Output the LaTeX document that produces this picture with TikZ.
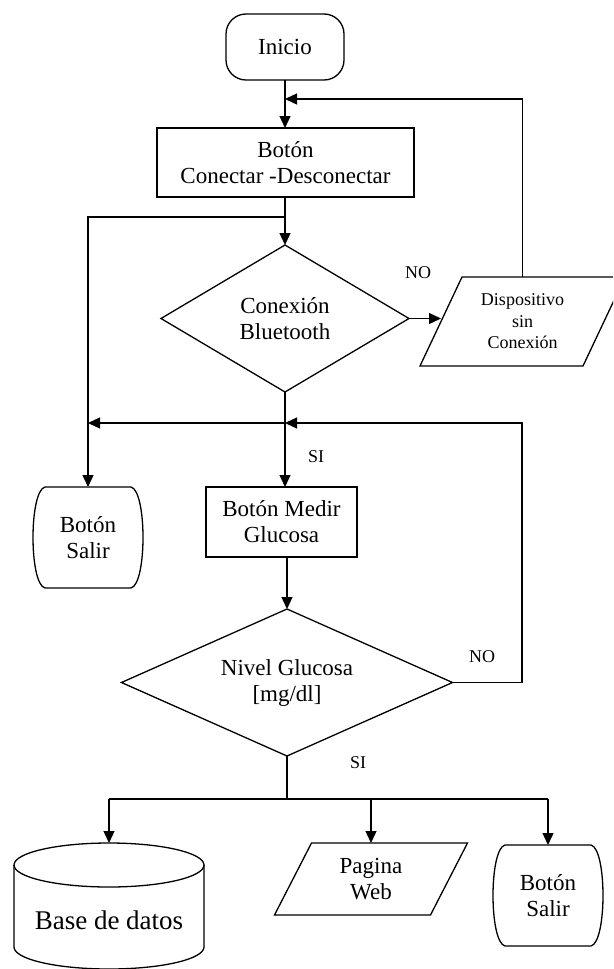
\documentclass[tikz,border=0pt]{standalone}
\usepackage{fontspec}
\setmainfont{Liberation Serif}
\usetikzlibrary{arrows.meta,shapes.geometric,calc}
% button shape with bulging sides
\newcommand\barrelshape[1]{%
  \draw[line] ($(#1.north west)+(12,0)$) -- ($(#1.north east)+(-12,0)$)
    .. controls ($(#1.north east)+(4,4)$) and ($(#1.south east)+(4,-4)$) .. ($(#1.south east)+(-12,0)$)
    -- ($(#1.south west)+(12,0)$)
    .. controls ($(#1.south west)+(-4,-4)$) and ($(#1.north west)+(-4,4)$) .. cycle;}
% input/output shape leaning to the right by #2
\newcommand\slantbox[2]{%
  \draw[line] (#1.south west) -- ($(#1.north west)+(#2,0)$) -- (#1.north east)
    -- ($(#1.south east)+(-#2,0)$) -- cycle;}
\begin{document}
\begin{tikzpicture}[x=1pt,y=-1pt,
  every node/.style={inner sep=0pt,outer sep=0pt,align=center,font=\fontsize{23}{26}\selectfont},
  line/.style={line width=1.3pt,line join=miter},
  arr/.style={line,-{Triangle[length=12pt,width=11pt]}},
  procbox/.style={draw,line width=1.3pt,rectangle},
  decision/.style={draw,line width=1.3pt,diamond},
  lbl/.style={font=\fontsize{18}{21}\selectfont},
]
\useasboundingbox (0,0) rectangle (613,969);
\clip (0,0) rectangle (613,969);

% nodes
\node[draw,line width=1.3pt,rounded corners=20pt,minimum width=118pt,minimum height=66pt] (ini) at (285,47) {Inicio};
\node[procbox,minimum width=257pt,minimum height=69pt] (b1) at (285.5,162.5) {Botón\\Conectar -Desconectar};
\node[decision,shape aspect=1.69,minimum width=248pt,minimum height=147pt] (d1) at (285,318.5) {Conexión\\Bluetooth};
\node[minimum width=205pt,minimum height=89pt,font=\fontsize{18}{21.5}\selectfont] (p1) at (522.5,321.5) {Dispositivo\\sin\\Conexión};
\node[minimum width=110pt,minimum height=101pt] (s1) at (88,537.5) {Botón\\Salir};
\node[procbox,minimum width=151pt,minimum height=70pt] (b2) at (281.5,522) {Botón Medir\\Glucosa};
\node[decision,shape aspect=2.25,minimum width=331pt,minimum height=147pt] (d2) at (287,682.5) {Nivel Glucosa\\{}[mg/dl]};
\node[minimum width=190pt,minimum height=126pt] (db) at (109,906) {\raisebox{-23pt}[0pt][0pt]{\fontsize{27}{30}\selectfont Base de datos}};
\node[minimum width=193pt,minimum height=72pt] (p2) at (371,879) {Pagina\\Web};
\node[minimum width=110pt,minimum height=101pt] (s2) at (548,895.5) {Botón\\Salir};

% branch labels
\node[lbl] (no1) at (418,273) {NO};
\node[lbl] (si1) at (316,457) {SI};
\node[lbl] (no2) at (482,657) {NO};
\node[lbl] (si2) at (358,763) {SI};

% outlines of the exit buttons, the slanted boxes and the database
\barrelshape{s1}
\barrelshape{s2}
\slantbox{p1}{42}
\slantbox{p2}{37}
\draw[line] (109,865) ellipse [x radius=95pt,y radius=22pt];
\draw[line] (14,865) -- (14,947) arc[start angle=180,end angle=360,x radius=95pt,y radius=22pt] -- (204,865);

% connectors
\coordinate (j1) at (285,99);
\coordinate (j2) at (285,217);
\coordinate (j3) at (285,423);
\coordinate (r2) at (522,423);
\coordinate (j5) at (287,799);
\coordinate (p1in) at ($(p1.west)+(21,0)$);

\draw[arr] (p2.north |- j5) -- (p2.north);
\draw[arr] (ini.south) -- (ini.south |- b1.north);
\draw[arr] (p1.north) |- (j1);
\draw[arr] (b1.south -| d1.north) -- (d1.north);
\draw[arr] (j2) -| (s1.north);
\draw[arr] (d1.east) -- (d1.east -| p1in);
\draw[arr] (d1.south) -- (d1.south |- b2.north);
\draw[arr] (j3) -- (j3 -| s1.north);
\draw[arr] (d2.east) -| (r2) -- (j3);
\draw[arr] (d2.north |- b2.south) -- (d2.north);
\draw[line] (d2.south) -- (j5);
\draw[line] (j5 -| db.north) -- (j5 -| s2.north);
\draw[arr] (j5 -| db.north) -- (db.north);
\draw[arr] (j5 -| s2.north) -- (s2.north);
\end{tikzpicture}
\end{document}
